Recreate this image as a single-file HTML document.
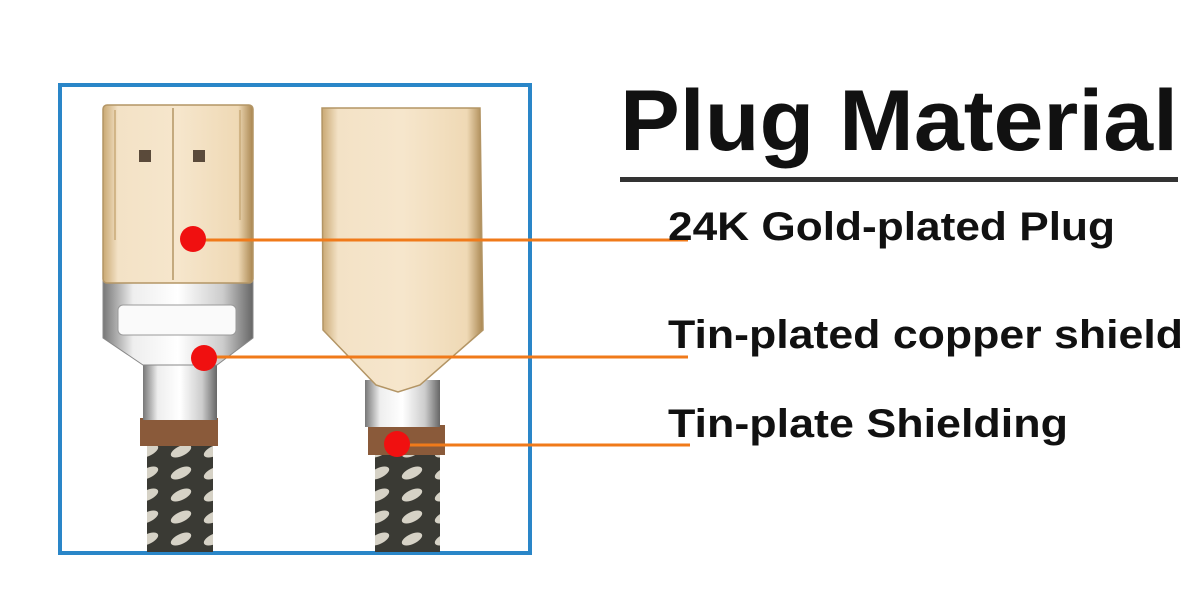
<!DOCTYPE html>
<html><head><meta charset="utf-8"><style>
html,body{margin:0;padding:0;background:#fff;width:1200px;height:596px;overflow:hidden}
</style></head><body>
<svg width="1200" height="596" viewBox="0 0 1200 596" xmlns="http://www.w3.org/2000/svg">
<defs>
<linearGradient id="gold" x1="0" x2="1" y1="0" y2="0">
<stop offset="0" stop-color="#c9a873"/><stop offset="0.1" stop-color="#f3e2c6"/><stop offset="0.5" stop-color="#f6e6cc"/><stop offset="0.9" stop-color="#efd9b5"/><stop offset="1" stop-color="#a98650"/>
</linearGradient>
<linearGradient id="chrome" x1="0" x2="1">
<stop offset="0" stop-color="#777"/><stop offset="0.2" stop-color="#eee"/><stop offset="0.5" stop-color="#fff"/><stop offset="0.8" stop-color="#ccc"/><stop offset="1" stop-color="#666"/>
</linearGradient>
<pattern id="braid" width="33" height="22" patternUnits="userSpaceOnUse">
<rect width="33" height="22" fill="#3a3a34"/>
<ellipse cx="16" cy="11" rx="11" ry="5" fill="#d6d2c6" transform="rotate(-25 16 11)"/>
</pattern>
</defs>
<rect x="60" y="85" width="470" height="468" fill="none" stroke="#2a86c8" stroke-width="4"/>
<!-- left plug -->
<rect x="147" y="440" width="66" height="112" fill="url(#braid)"/>
<rect x="140" y="418" width="78" height="28" fill="#8a5a3a"/>
<rect x="143" y="362" width="74" height="58" fill="url(#chrome)"/>
<path d="M103,280 L253,280 L253,338 L217,365 L143,365 L103,338 Z" fill="url(#chrome)" stroke="#888" stroke-width="1"/>
<rect x="118" y="305" width="118" height="30" rx="5" fill="#fafafa" stroke="#999"/>
<rect x="103" y="105" width="150" height="178" rx="4" fill="url(#gold)" stroke="#b39565" stroke-width="1.5"/>
<line x1="173" y1="108" x2="173" y2="280" stroke="#b39565" stroke-width="1.5"/>
<line x1="115" y1="110" x2="115" y2="240" stroke="#c9aa78" stroke-width="1.5"/>
<line x1="240" y1="110" x2="240" y2="220" stroke="#c9aa78" stroke-width="1.5"/>
<rect x="139" y="150" width="12" height="12" fill="#5a4a3a"/>
<rect x="193" y="150" width="12" height="12" fill="#5a4a3a"/>
<!-- right plug -->
<rect x="375" y="450" width="65" height="102" fill="url(#braid)"/>
<rect x="368" y="425" width="77" height="30" fill="#8a5a3a"/>
<rect x="365" y="380" width="75" height="47" fill="url(#chrome)"/>
<path d="M322,108 L480,108 L483,330 L420,385 L398,392 L376,385 L323,330 Z" fill="url(#gold)" stroke="#b39565" stroke-width="1.5"/>
<!-- dots & lines -->
<g stroke="#f07a1a" stroke-width="3">
<line x1="193" y1="240" x2="688" y2="240"/>
<line x1="204" y1="357" x2="688" y2="357"/>
<line x1="397" y1="445" x2="690" y2="445"/>
</g>
<circle cx="193" cy="239" r="13" fill="#f01010"/>
<circle cx="204" cy="358" r="13" fill="#f01010"/>
<circle cx="397" cy="444" r="13" fill="#f01010"/>
<!-- text -->
<g font-family="Liberation Sans, sans-serif" fill="#111">
<text x="620" y="150" font-size="86" font-weight="bold" textLength="558" lengthAdjust="spacingAndGlyphs">Plug Material</text>
<text x="668" y="240" font-size="40" font-weight="bold" textLength="447" lengthAdjust="spacingAndGlyphs">24K Gold-plated Plug</text>
<text x="668" y="348" font-size="40" font-weight="bold" textLength="515" lengthAdjust="spacingAndGlyphs">Tin-plated copper shield</text>
<text x="668" y="437" font-size="40" font-weight="bold" textLength="400" lengthAdjust="spacingAndGlyphs">Tin-plate Shielding</text>
</g>
<rect x="620" y="177" width="558" height="5" fill="#333"/>
</svg>
</body></html>
